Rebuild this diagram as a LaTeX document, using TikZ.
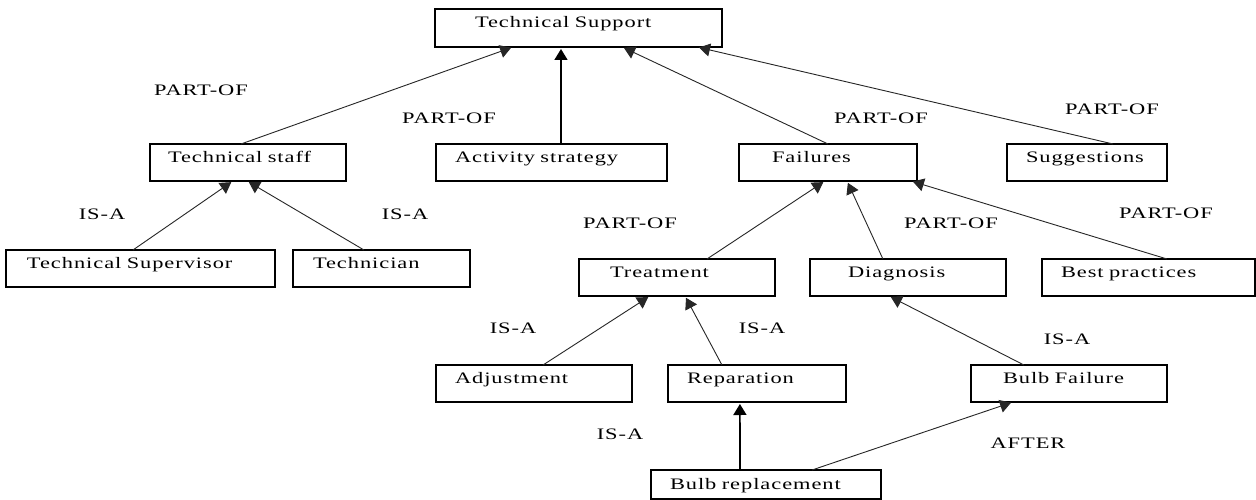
\documentclass[tikz,border=0pt]{standalone}
\usepackage{fontspec}
\setmainfont{Liberation Serif}[FakeStretch=1.4,LetterSpace=6,WordSpace=1.3]
\usetikzlibrary{arrows.meta,calc}
\begin{document}
\begin{tikzpicture}[x=1pt,y=-1pt,
  txt/.style={font=\fontsize{16pt}{19pt}\selectfont},
  box/.style={txt, draw, line width=1.2pt, anchor=north west, align=left,
    minimum height=37pt, inner ysep=0pt, outer sep=0pt,
    text height=8pt, text depth=8pt},
  lbl/.style={txt, inner sep=0pt},
  rel/.style={line width=0.9pt, draw=black!85, -{Triangle[length=11pt,width=13pt]}, shorten >=2pt},
  vrel/.style={rel, line width=1.6pt, draw=black}
]
\useasboundingbox (0,0) rectangle (1256,500);
\fill[white] (0,0) rectangle (1256,500);

% boxes
\node[box, minimum height=38pt, inner xsep=40pt, text width=207pt] (ts) at (435,9) {Technical Support};
\node[box, inner xsep=18pt, text width=160pt] (staff) at (150,144) {Technical staff};
\node[box, inner xsep=19pt, text width=193pt] (act) at (436,144) {Activity strategy};
\node[box, inner xsep=33pt, text width=112pt] (fail) at (739,144) {Failures};
\node[box, inner xsep=19pt, text width=122pt] (sug) at (1007,144) {Suggestions};
\node[box, inner xsep=21pt, text width=227pt] (sup) at (6,250) {Technical Supervisor};
\node[box, inner xsep=20pt, text width=137pt] (tech) at (293,250) {Technician};
\node[box, inner xsep=31pt, text width=134pt] (treat) at (579,259) {Treatment};
\node[box, inner xsep=38pt, text width=120pt] (diag) at (810,259) {Diagnosis};
\node[box, inner xsep=19pt, text width=175pt] (best) at (1042,259) {Best practices};
\node[box, inner xsep=19pt, text width=158pt] (adj) at (436,365) {Adjustment};
\node[box, inner xsep=19pt, text width=140pt] (rep) at (668,365) {Reparation};
\node[box, inner xsep=32pt, text width=132pt] (bulbf) at (971,365) {Bulb Failure};
\node[box, minimum height=29pt, text depth=0pt, text height=9pt, inner xsep=19pt, text width=192pt] (bulbr) at (651,470) {Bulb replacement};

% connectors
\draw[rel] ($(staff.north west)!0.464!(staff.north east)$) -- ($(ts.south west)!0.272!(ts.south east)$);
\draw[vrel] ($(act.north west)!0.541!(act.north east)$) -- ($(ts.south west)!0.439!(ts.south east)$);
\draw[rel] ($(fail.north west)!0.5!(fail.north east)$) -- ($(ts.south west)!0.652!(ts.south east)$);
\draw[rel] ($(sug.north west)!0.663!(sug.north east)$) -- ($(ts.south west)!0.913!(ts.south east)$);
\draw[rel] ($(sup.north west)!0.472!(sup.north east)$) -- ($(staff.south west)!0.423!(staff.south east)$);
\draw[rel] ($(tech.north west)!0.401!(tech.north east)$) -- ($(staff.south west)!0.495!(staff.south east)$);
\draw[rel] ($(treat.north west)!0.653!(treat.north east)$) -- ($(fail.south west)!0.483!(fail.south east)$);
\draw[rel] ($(diag.north west)!0.372!(diag.north east)$) -- ($(fail.south west)!0.607!(fail.south east)$);
\draw[rel] ($(best.north west)!0.587!(best.north east)$) -- ($(fail.south west)!0.966!(fail.south east)$);
\draw[rel] ($(adj.north west)!0.546!(adj.north east)$) -- ($(treat.south west)!0.362!(treat.south east)$);
\draw[rel] ($(rep.north west)!0.303!(rep.north east)$) -- ($(treat.south west)!0.541!(treat.south east)$);
\draw[rel] ($(bulbf.north west)!0.270!(bulbf.north east)$) -- ($(diag.south west)!0.403!(diag.south east)$);
\draw[vrel] ($(bulbr.north west)!0.387!(bulbr.north east)$) -- ($(rep.south west)!0.404!(rep.south east)$);
\draw[rel] ($(bulbr.north west)!0.7!(bulbr.north east)$) -- ($(bulbf.south west)!0.214!(bulbf.south east)$);

% relation labels
\node[lbl] (l1) at (201,90) {PART-OF};
\node[lbl] (l2) at (449,118) {PART-OF};
\node[lbl] (l3) at (881,118) {PART-OF};
\node[lbl] (l4) at (1112,109) {PART-OF};
\node[lbl] (l5) at (630,223) {PART-OF};
\node[lbl] (l6) at (951,223) {PART-OF};
\node[lbl] (l7) at (1166,213) {PART-OF};
\node[lbl] (l8) at (102,214) {IS-A};
\node[lbl] (l9) at (405,214) {IS-A};
\node[lbl] (l10) at (513,328) {IS-A};
\node[lbl] (l11) at (762,328) {IS-A};
\node[lbl] (l12) at (620,434) {IS-A};
\node[lbl] (l13) at (1067,339) {IS-A};
\node[lbl] (l14) at (1028,443) {AFTER};
\end{tikzpicture}
\end{document}
